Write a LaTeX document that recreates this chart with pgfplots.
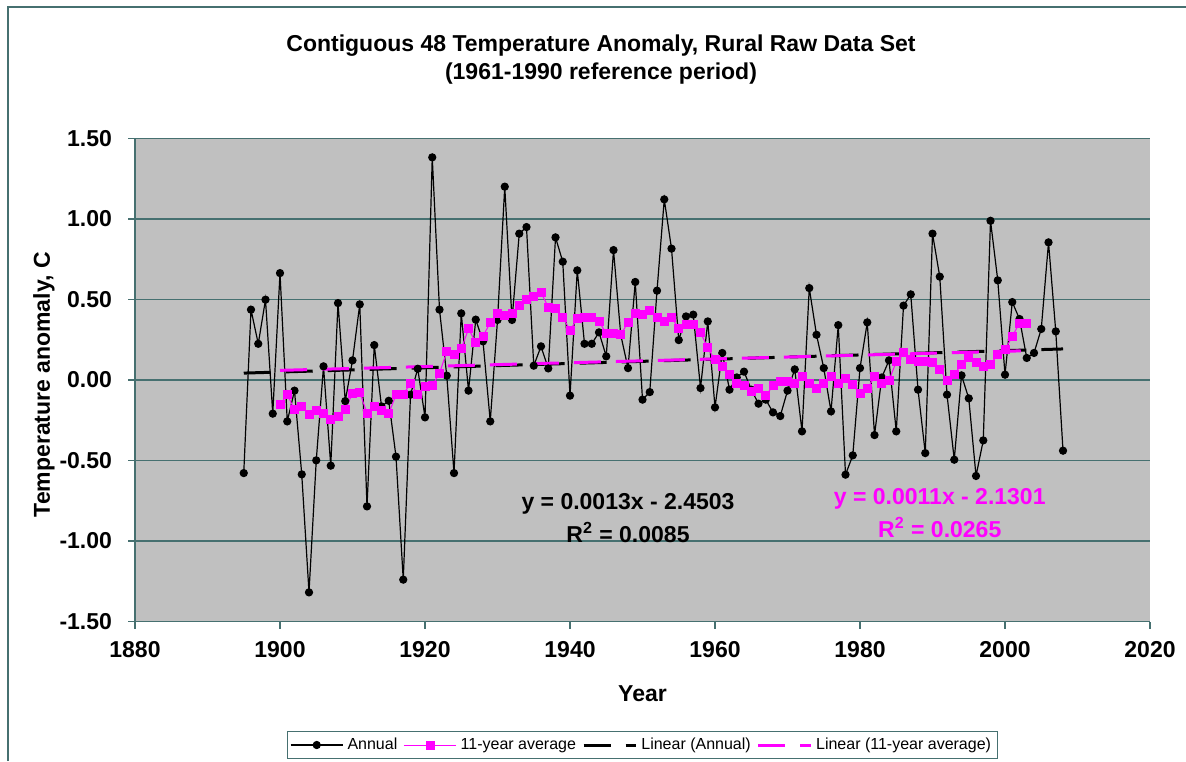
\documentclass[border=0pt]{standalone}
\usepackage{fontspec}
\setmainfont{Liberation Sans}
\usepackage{pgfplots}
\pgfplotsset{compat=1.18}
\definecolor{gridc}{RGB}{70,112,112}
\definecolor{plotbg}{RGB}{192,192,192}
\definecolor{mag}{RGB}{255,0,255}

\pgfplotstableread{
year val
1895 -0.578
1896 0.437
1897 0.225
1898 0.499
1899 -0.209
1900 0.664
1901 -0.257
1902 -0.066
1903 -0.586
1904 -1.319
1905 -0.499
1906 0.085
1907 -0.532
1908 0.478
1909 -0.131
1910 0.122
1911 0.470
1912 -0.785
1913 0.217
1914 -0.164
1915 -0.129
1916 -0.476
1917 -1.240
1918 -0.091
1919 0.070
1920 -0.232
1921 1.383
1922 0.437
1923 0.027
1924 -0.578
1925 0.414
1926 -0.066
1927 0.375
1928 0.240
1929 -0.257
1930 0.373
1931 1.201
1932 0.373
1933 0.909
1934 0.950
1935 0.089
1936 0.209
1937 0.072
1938 0.886
1939 0.735
1940 -0.097
1941 0.681
1942 0.225
1943 0.225
1944 0.296
1945 0.147
1946 0.807
1947 0.280
1948 0.074
1949 0.609
1950 -0.122
1951 -0.075
1952 0.555
1953 1.122
1954 0.816
1955 0.248
1956 0.395
1957 0.406
1958 -0.050
1959 0.364
1960 -0.170
1961 0.168
1962 -0.060
1963 0.016
1964 0.052
1965 -0.060
1966 -0.147
1967 -0.122
1968 -0.201
1969 -0.224
1970 -0.066
1971 0.066
1972 -0.319
1973 0.571
1974 0.281
1975 0.074
1976 -0.195
1977 0.341
1978 -0.588
1979 -0.468
1980 0.074
1981 0.358
1982 -0.342
1983 0.016
1984 0.122
1985 -0.319
1986 0.462
1987 0.532
1988 -0.060
1989 -0.454
1990 0.909
1991 0.642
1992 -0.091
1993 -0.495
1994 0.029
1995 -0.114
1996 -0.596
1997 -0.375
1998 0.989
1999 0.619
2000 0.033
2001 0.484
2002 0.379
2003 0.137
2004 0.168
2005 0.317
2006 0.855
2007 0.302
2008 -0.439
}\annual

\pgfplotstableread{
year val
1900 -0.153
1901 -0.091
1902 -0.184
1903 -0.164
1904 -0.216
1905 -0.189
1906 -0.205
1907 -0.247
1908 -0.226
1909 -0.184
1910 -0.081
1911 -0.077
1912 -0.205
1913 -0.164
1914 -0.189
1915 -0.209
1916 -0.091
1917 -0.091
1918 -0.019
1919 -0.091
1920 -0.040
1921 -0.035
1922 0.043
1923 0.176
1924 0.161
1925 0.193
1926 0.317
1927 0.234
1928 0.271
1929 0.358
1930 0.412
1931 0.399
1932 0.412
1933 0.461
1934 0.499
1935 0.516
1936 0.544
1937 0.453
1938 0.443
1939 0.391
1940 0.310
1941 0.379
1942 0.391
1943 0.391
1944 0.364
1945 0.288
1946 0.288
1947 0.281
1948 0.358
1949 0.412
1950 0.406
1951 0.430
1952 0.391
1953 0.364
1954 0.391
1955 0.317
1956 0.343
1957 0.343
1958 0.296
1959 0.199
1960 0.126
1961 0.085
1962 0.033
1963 -0.023
1964 -0.035
1965 -0.071
1966 -0.050
1967 -0.098
1968 -0.035
1969 -0.009
1970 -0.009
1971 -0.019
1972 0.019
1973 -0.023
1974 -0.050
1975 -0.019
1976 0.019
1977 -0.019
1978 0.012
1979 -0.029
1980 -0.085
1981 -0.054
1982 0.019
1983 -0.019
1984 -0.002
1985 0.114
1986 0.171
1987 0.130
1988 0.116
1989 0.116
1990 0.106
1991 0.068
1992 -0.004
1993 0.033
1994 0.099
1995 0.140
1996 0.109
1997 0.081
1998 0.099
1999 0.157
2000 0.188
2001 0.271
2002 0.354
2003 0.350
}\avg

\begin{document}
\begin{tikzpicture}
\useasboundingbox (0,0) rectangle (593pt,-380.5pt);
\draw[gridc, line width=0.7pt] (4pt,-380.5pt) -- (4pt,-3.5pt) -- (593pt,-3.5pt);
\node[font=\bfseries\fontsize{11.5}{14}\selectfont, align=center] at (300.5pt,-30pt)
  {Contiguous 48 Temperature Anomaly, Rural Raw Data Set\\(1961-1990 reference period)};
\begin{axis}[
  at={(67.5pt,-310.75pt)}, anchor=south west,
  width=507.5pt, height=241.5pt, scale only axis,
  xmin=1880, xmax=2020, ymin=-1.5, ymax=1.5,
  xtick={1880,1900,1920,1940,1960,1980,2000,2020},
  xticklabels={1880,1900,1920,1940,1960,1980,2000,2020},
  ytick={-1.5,-1,-0.5,0,0.5,1,1.5},
  yticklabels={-1.50,-1.00,-0.50,0.00,0.50,1.00,1.50},
  axis background/.style={fill=plotbg},
  ymajorgrids, grid style={gridc, line width=0.6pt},
  axis x line*=bottom, axis y line*=left,
  axis line style={gridc, line width=0.6pt, -},
  tick style={gridc, line width=0.6pt},
  tick align=outside, major tick length=3.5pt,
  ticklabel style={font=\bfseries\fontsize{11.5}{13}\selectfont, text=black},
  xticklabel style={yshift=-3pt},
  yticklabel style={xshift=-4.5pt},
  xlabel={Year}, ylabel={Temperature anomaly, C},
  every axis x label/.style={at={(axis description cs:0.5,-0.150)}, anchor=center,
    font=\bfseries\fontsize{11.5}{13}\selectfont},
  every axis y label/.style={at={(axis description cs:-0.0897,0.49)}, anchor=center, rotate=90,
    font=\bfseries\fontsize{11.5}{13}\selectfont},
  clip=false,
  legend style={at={(axis description cs:0.5,-0.2557)}, anchor=center, legend columns=4,
    draw=gridc, line width=0.5pt, font=\fontsize{8}{10}\selectfont, inner sep=1.2pt,
    /tikz/every even column/.append style={column sep=1pt}},
  legend cell align=left,
  legend image code/.code={\draw[mark repeat=2,mark phase=2,#1] plot coordinates {(0cm,0cm) (0.46cm,0cm) (0.92cm,0cm)};},
]
\addplot[black, line width=0.6pt, mark=*, mark size=1.75pt, mark options={solid}] table[x=year,y=val] {\annual};
\addlegendentry{Annual}
\addplot[mag, line width=0.5pt, mark=square*, mark size=2pt, mark options={solid}] table[x=year,y=val] {\avg};
\addlegendentry{11-year average}
\addplot[black, line width=1.5pt, dash pattern=on 13.5pt off 7.5pt] coordinates {(1895,0.043) (2008,0.193)};
\addlegendentry{Linear (Annual)}
\addplot[mag, line width=1.5pt, dash pattern=on 13.5pt off 7.5pt] coordinates {(1900,0.060) (2003,0.182)};
\addlegendentry{Linear (11-year average)}
\node[font=\bfseries\fontsize{11.5}{16.5}\selectfont, align=center] at (axis cs:1948,-0.857) {y = 0.0013x - 2.4503\\R$^{\mathbf 2}$ = 0.0085};
\node[font=\bfseries\fontsize{11.5}{16.5}\selectfont, align=center, text=mag] at (axis cs:1991,-0.826) {y = 0.0011x - 2.1301\\R$^{\mathbf 2}$ = 0.0265};
\end{axis}
\end{tikzpicture}
\end{document}
